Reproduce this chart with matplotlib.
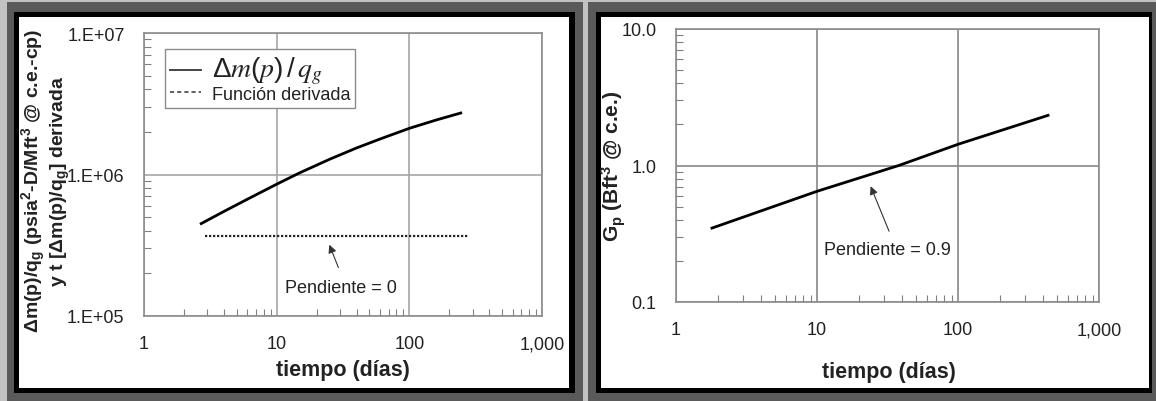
import matplotlib
matplotlib.use('Agg')
import matplotlib.pyplot as plt
from matplotlib.patches import Rectangle
from matplotlib.lines import Line2D
from matplotlib.ticker import FixedLocator, LogLocator, NullFormatter, FixedFormatter

plt.rcParams['font.family'] = ['Liberation Sans', 'DejaVu Sans']
plt.rcParams['mathtext.default'] = 'regular'

W, H = 1156, 402

# --- data: left panel (Δm(p)/qg and its derivative) ---
t_mp = [2.7, 4, 6, 10, 15, 25, 40, 60, 100, 160, 244]
mp_qg = [4.5e5, 5.48e5, 6.68e5, 8.54e5, 1.03e6, 1.28e6, 1.54e6, 1.78e6, 2.12e6, 2.43e6, 2.72e6]
t_deriv = [2.9, 281]
deriv = [3.7e5, 3.7e5]

# --- data: right panel (cumulative production Gp) ---
t_gp = [1.8, 10, 38, 100, 435]
gp = [0.348, 0.647, 1.0, 1.43, 2.33]

x_ticks = [1, 10, 100, 1000]
x_labels = ['1', '10', '100', '1,000']
yl_ticks = [1e5, 1e6, 1e7]
yl_labels = ['1.E+05', '1.E+06', '1.E+07']
yr_ticks = [0.1, 1.0, 10.0]
yr_labels = ['0.1', '1.0', '10.0']

TXT = '#222222'
GRID = '#a6a6a6'


def frac_rect(x0, y0, x1, y1):
    # pixel box (top-left origin) -> figure fraction
    return (x0 / W, 1 - y1 / H, (x1 - x0) / W, (y1 - y0) / H)


fig = plt.figure(figsize=(W / 100, H / 100), dpi=100, facecolor='#c2c2c2')

# panel frames
for (dx0, dx1), (bx0, bx1), (wx0, wx1) in [((7, 583), (14, 575), (19, 569)),
                                            ((588, 1160), (596, 1152), (601, 1149))]:
    for box, col in [((dx0, 3, dx1, 410), '#5a5a5a'),
                     ((bx0, 13, bx1, 394), '#000000'),
                     ((wx0, 18, wx1, 389), '#ffffff')]:
        x, y, w, h = frac_rect(*box)
        fig.add_artist(Rectangle((x, y), w, h, transform=fig.transFigure,
                                 facecolor=col, edgecolor='none', zorder=0))


def style_axes(ax, yticks, ylabels, ylim):
    ax.set_xscale('log')
    ax.set_yscale('log')
    ax.set_xlim(1, 1000)
    ax.set_ylim(*ylim)
    ax.xaxis.set_major_locator(FixedLocator(x_ticks))
    ax.xaxis.set_major_formatter(FixedFormatter(x_labels))
    ax.yaxis.set_major_locator(FixedLocator(yticks))
    ax.yaxis.set_major_formatter(FixedFormatter(ylabels))
    ax.xaxis.set_minor_locator(LogLocator(base=10, subs=range(2, 10)))
    ax.yaxis.set_minor_locator(LogLocator(base=10, subs=range(2, 10)))
    ax.xaxis.set_minor_formatter(NullFormatter())
    ax.yaxis.set_minor_formatter(NullFormatter())
    ax.tick_params(which='major', length=0, labelsize=13, colors=TXT, pad=14)
    ax.tick_params(which='minor', direction='in', length=5, color='#808080', width=0.8)
    ax.grid(True, which='major', color=GRID, linewidth=1.2)
    for s in ax.spines.values():
        s.set_color('#8c8c8c')
        s.set_linewidth(1.2)
    ax.set_facecolor('white')


# left chart
ax1 = fig.add_axes(frac_rect(144, 34, 542, 317))
style_axes(ax1, yl_ticks, yl_labels, (1e5, 1e7))
ax1.plot(t_mp, mp_qg, color='black', linewidth=2)
ax1.plot(t_deriv, deriv, color='#222222', linewidth=1.6, linestyle=(0, (1, 0.8)))
ax1.annotate('', xy=(24.5, 3.33e5), xytext=(29.7, 2.11e5),
             arrowprops=dict(arrowstyle='-|>', color='#333333', lw=0.8,
                             mutation_scale=12))
ax1.text(30.5, 1.58e5, 'Pendiente = 0', ha='center', va='center', fontsize=13, color=TXT)

handles = [Line2D([], [], color='#444444', linewidth=1.4),
           Line2D([], [], color='#444444', linewidth=1.2, linestyle=(0, (2.5, 1.8)))]
leg = ax1.legend(handles, [r'$\Delta\mathit{m}(\mathit{p})\,/\,\mathit{q_g}$', 'Función derivada'],
                 loc='upper left', bbox_to_anchor=(0.053, 0.943), borderaxespad=0,
                 fontsize=13, handlelength=1.7, handletextpad=0.6, borderpad=0.28,
                 labelspacing=0.0, fancybox=False, framealpha=1,
                 edgecolor='#8c8c8c')
leg.get_frame().set_linewidth(1.0)
leg.get_texts()[0].set_math_fontfamily('stix')
leg.get_texts()[0].set_fontsize(20)
for t in leg.get_texts():
    t.set_color(TXT)

fig.text(343 / W, 1 - 371 / H, 'tiempo (días)', ha='center', va='center',
         fontsize=15.5, fontweight='bold', color=TXT)
fig.text(46 / W, 1 - 181 / H,
         'Δm(p)/q$_{g}$ (psia$^{2}$-D/Mft$^{3}$ @ c.e.-cp)\ny t [Δm(p)/q$_{g}$] derivada',
         ha='center', va='center', rotation=90, fontsize=14, fontweight='bold',
         color=TXT, linespacing=1.05)

# right chart
ax2 = fig.add_axes(frac_rect(676, 30, 1099, 303))
style_axes(ax2, yr_ticks, yr_labels, (0.1, 10))
ax2.grid(True, which='major', color='#888888', linewidth=1.2)
ax2.plot(t_gp, gp, color='black', linewidth=2)
ax2.annotate('', xy=(23.6, 0.736), xytext=(33, 0.316),
             arrowprops=dict(arrowstyle='-|>', color='#333333', lw=0.8,
                             mutation_scale=12))
ax2.text(31.4, 0.244, 'Pendiente = 0.9', ha='center', va='center', fontsize=13, color=TXT)

fig.text(889 / W, 1 - 373 / H, 'tiempo (días)', ha='center', va='center',
         fontsize=15.5, fontweight='bold', color=TXT)
fig.text(614 / W, 1 - 166 / H, 'G$_{p}$ (Bft$^{3}$ @ c.e.)',
         ha='center', va='center', rotation=90, fontsize=15, fontweight='bold',
         color=TXT)

fig.savefig('out.png', dpi=100, facecolor=fig.get_facecolor())
